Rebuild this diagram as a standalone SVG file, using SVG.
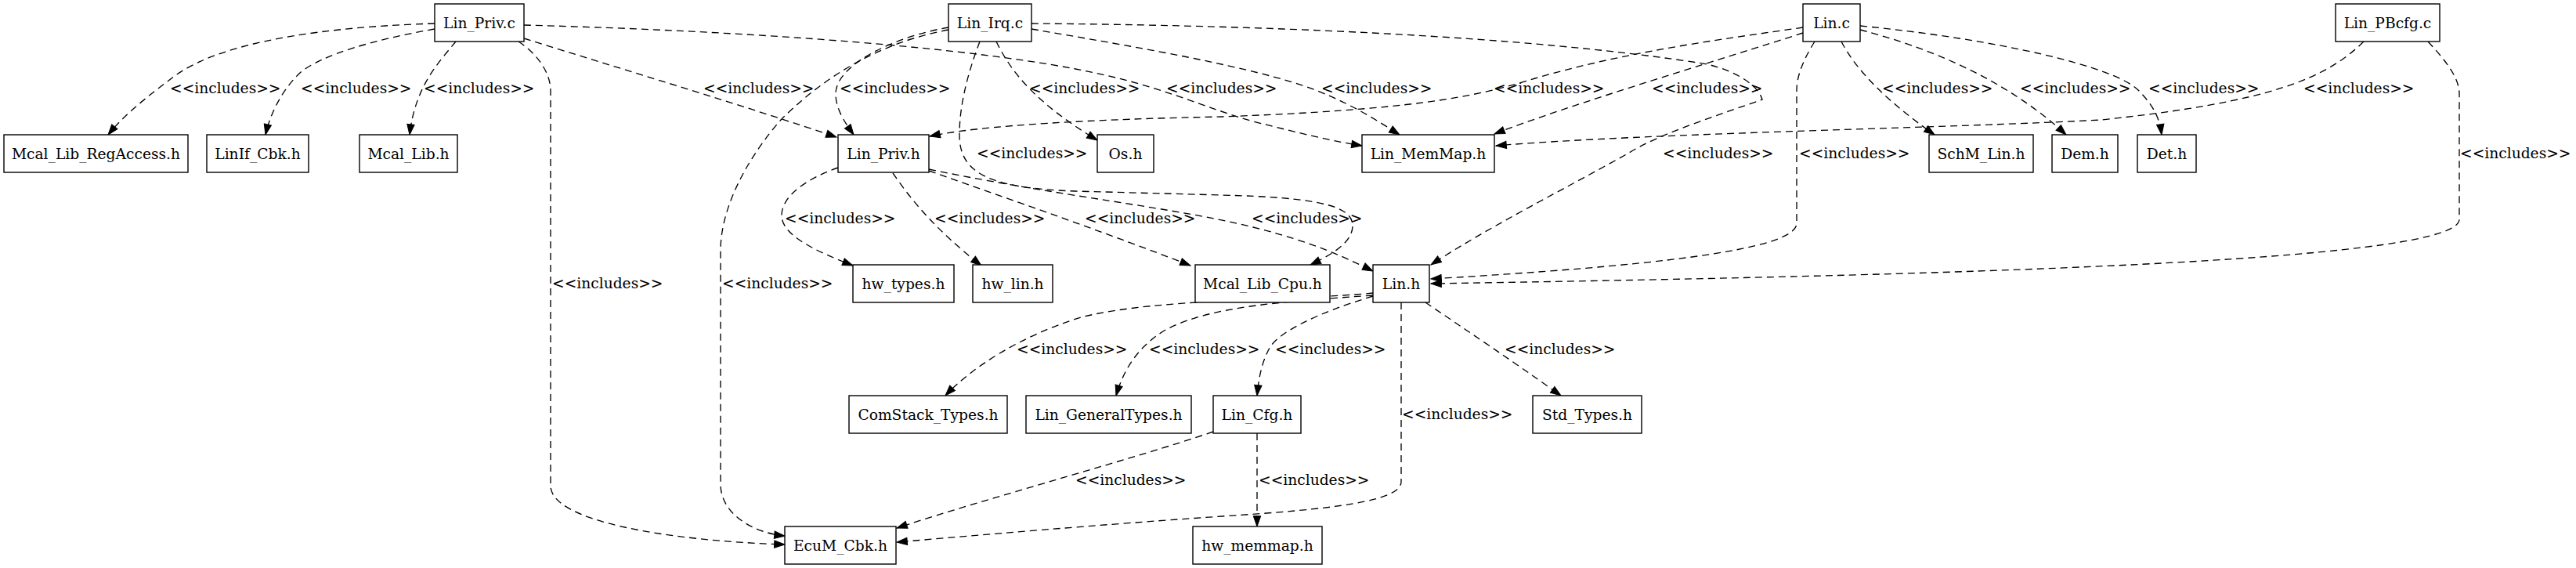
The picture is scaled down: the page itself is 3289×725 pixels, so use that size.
<svg xmlns="http://www.w3.org/2000/svg" width="3289" height="725" viewBox="0 0 3289 725">
<style>
text{font-family:"DejaVu Serif",serif;font-size:18.67px;fill:#000}
.n rect{fill:#fff;stroke:#000;stroke-width:1.4}
.n text{text-anchor:middle}
.e path{fill:none;stroke:#000;stroke-width:1.33;stroke-dasharray:9,6;marker-end:url(#a)}
</style>
<defs>
<marker id="a" markerUnits="userSpaceOnUse" markerWidth="16" markerHeight="12" refX="13.3" refY="4.7" orient="auto" overflow="visible">
<path d="M0,0 L13.3,4.7 L0,9.4 z" fill="#000" stroke="#000" stroke-width="1"/>
</marker>
</defs>
<rect width="3289" height="725" fill="#fff"/>
<g id="connectors" class="e">
<path d="M555,30 C420,34 280,52 219,100 C190,122 160,145 138,172"/>
<path d="M555,37 C480,50 410,70 383,93 C360,115 345,145 339,172"/>
<path d="M582,53 C560,80 530,110 523,172"/>
<path d="M662,53 C685,68 703,92 703,116 L703,620 C703,665 850,690 1002,695"/>
<path d="M669,49 C800,90 950,135 1068,175"/>
<path d="M669,32 C900,38 1200,55 1373,88 C1480,108 1530,135 1600,155 C1660,170 1700,180 1739,186"/>
<path d="M1211,35 C1150,45 1067,80 1067,120 C1067,140 1080,158 1090,172"/>
<path d="M1211,38 C1120,55 1050,100 997,153 C960,195 920,260 920,320 L920,618 C920,655 960,680 1002,684"/>
<path d="M1272,53 C1290,90 1320,130 1401,179"/>
<path d="M1251,53 C1235,95 1225,135 1225,172 C1225,220 1260,240 1373,244 L1560,249 C1680,252 1727,262 1727,288 C1727,310 1700,325 1673,338"/>
<path d="M1317,37 C1450,60 1600,85 1680,115 C1730,135 1760,155 1787,172"/>
<path d="M1317,30 C1600,32 1950,45 2180,82 C2220,92 2245,110 2250,127 C2200,145 2120,170 2080,195 C2000,240 1900,290 1827,338"/>
<path d="M2302,35 C2200,50 2080,65 1960,100 C1880,125 1800,140 1560,149 C1400,152 1250,160 1187,174"/>
<path d="M2302,42 C2200,75 2000,135 1908,171"/>
<path d="M2317,53 C2300,80 2294,100 2294,115 L2294,285 C2294,320 2100,340 1827,356"/>
<path d="M2351,53 C2370,90 2410,130 2470,172"/>
<path d="M2375,38 C2460,60 2560,100 2638,172"/>
<path d="M2375,33 C2550,50 2700,85 2730,115 C2750,135 2757,150 2760,172"/>
<path d="M3018,53 C2970,100 2900,130 2683,153 C2500,163 2100,170 1910,186"/>
<path d="M3100,53 C3125,80 3140,100 3140,120 L3140,280 C3140,330 2600,350 1827,362"/>
<path d="M1070,214 C1030,228 998,250 998,275 C998,300 1040,320 1089,339"/>
<path d="M1140,221 C1160,250 1190,290 1253,339"/>
<path d="M1186,218 C1300,258 1420,300 1520,339"/>
<path d="M1186,216 C1350,250 1500,265 1600,290 C1680,310 1720,330 1753,346"/>
<path d="M1753,374 C1650,384 1480,380 1380,405 C1300,430 1240,470 1207,505"/>
<path d="M1753,377 C1640,385 1550,390 1490,420 C1455,440 1435,470 1425,505"/>
<path d="M1753,378 C1680,400 1630,425 1620,446 C1610,465 1607,485 1605,505"/>
<path d="M1820,386 C1870,420 1930,460 1993,505"/>
<path d="M1789,386 L1789,615 C1789,640 1700,650 1560,659 C1400,670 1250,683 1145,692"/>
<path d="M1549,551 C1450,585 1280,630 1145,674"/>
<path d="M1605,553 L1605,672"/>
</g>
<g id="labels">
<text x="217" y="119">&lt;&lt;includes&gt;&gt;</text>
<text x="384" y="119">&lt;&lt;includes&gt;&gt;</text>
<text x="541" y="119">&lt;&lt;includes&gt;&gt;</text>
<text x="705" y="368">&lt;&lt;includes&gt;&gt;</text>
<text x="898" y="119">&lt;&lt;includes&gt;&gt;</text>
<text x="1489" y="119">&lt;&lt;includes&gt;&gt;</text>
<text x="1072" y="119">&lt;&lt;includes&gt;&gt;</text>
<text x="922" y="368">&lt;&lt;includes&gt;&gt;</text>
<text x="1314" y="119">&lt;&lt;includes&gt;&gt;</text>
<text x="1247" y="202">&lt;&lt;includes&gt;&gt;</text>
<text x="1687" y="119">&lt;&lt;includes&gt;&gt;</text>
<text x="2123" y="202">&lt;&lt;includes&gt;&gt;</text>
<text x="1907" y="119">&lt;&lt;includes&gt;&gt;</text>
<text x="2109" y="119">&lt;&lt;includes&gt;&gt;</text>
<text x="2297" y="202">&lt;&lt;includes&gt;&gt;</text>
<text x="2403" y="119">&lt;&lt;includes&gt;&gt;</text>
<text x="2579" y="119">&lt;&lt;includes&gt;&gt;</text>
<text x="2743" y="119">&lt;&lt;includes&gt;&gt;</text>
<text x="2941" y="119">&lt;&lt;includes&gt;&gt;</text>
<text x="3141" y="202">&lt;&lt;includes&gt;&gt;</text>
<text x="1002" y="285">&lt;&lt;includes&gt;&gt;</text>
<text x="1193" y="285">&lt;&lt;includes&gt;&gt;</text>
<text x="1385" y="285">&lt;&lt;includes&gt;&gt;</text>
<text x="1598" y="285">&lt;&lt;includes&gt;&gt;</text>
<text x="1298" y="452">&lt;&lt;includes&gt;&gt;</text>
<text x="1467" y="452">&lt;&lt;includes&gt;&gt;</text>
<text x="1628" y="452">&lt;&lt;includes&gt;&gt;</text>
<text x="1921" y="452">&lt;&lt;includes&gt;&gt;</text>
<text x="1790" y="535">&lt;&lt;includes&gt;&gt;</text>
<text x="1373" y="619">&lt;&lt;includes&gt;&gt;</text>
<text x="1607" y="619">&lt;&lt;includes&gt;&gt;</text>
</g>
<g id="Lin_Priv_c" class="n"><rect x="555" y="5" width="114" height="48"/><text x="612" y="35.5">Lin_Priv.c</text></g>
<g id="Lin_Irq_c" class="n"><rect x="1211" y="5" width="106" height="48"/><text x="1264" y="35.5">Lin_Irq.c</text></g>
<g id="Lin_c" class="n"><rect x="2302" y="5" width="73" height="48"/><text x="2338.5" y="35.5">Lin.c</text></g>
<g id="Lin_PBcfg_c" class="n"><rect x="2982" y="5" width="133" height="48"/><text x="3048.5" y="35.5">Lin_PBcfg.c</text></g>
<g id="Mcal_Lib_RegAccess_h" class="n"><rect x="5" y="172" width="235" height="48"/><text x="122.5" y="202.5">Mcal_Lib_RegAccess.h</text></g>
<g id="LinIf_Cbk_h" class="n"><rect x="264" y="172" width="130" height="48"/><text x="329" y="202.5">LinIf_Cbk.h</text></g>
<g id="Mcal_Lib_h" class="n"><rect x="459" y="172" width="125" height="48"/><text x="521.5" y="202.5">Mcal_Lib.h</text></g>
<g id="Lin_Priv_h" class="n"><rect x="1070" y="172" width="116" height="48"/><text x="1128" y="202.5">Lin_Priv.h</text></g>
<g id="Os_h" class="n"><rect x="1401" y="172" width="72" height="48"/><text x="1437" y="202.5">Os.h</text></g>
<g id="Lin_MemMap_h" class="n"><rect x="1739" y="172" width="169" height="48"/><text x="1823.5" y="202.5">Lin_MemMap.h</text></g>
<g id="SchM_Lin_h" class="n"><rect x="2463" y="172" width="133" height="48"/><text x="2529.5" y="202.5">SchM_Lin.h</text></g>
<g id="Dem_h" class="n"><rect x="2620" y="172" width="84" height="48"/><text x="2662" y="202.5">Dem.h</text></g>
<g id="Det_h" class="n"><rect x="2729" y="172" width="75" height="48"/><text x="2766.5" y="202.5">Det.h</text></g>
<g id="hw_types_h" class="n"><rect x="1089" y="338" width="129" height="48"/><text x="1153.5" y="368.5">hw_types.h</text></g>
<g id="hw_lin_h" class="n"><rect x="1242" y="338" width="102" height="48"/><text x="1293" y="368.5">hw_lin.h</text></g>
<g id="Mcal_Lib_Cpu_h" class="n"><rect x="1526" y="338" width="172" height="48"/><text x="1612" y="368.5">Mcal_Lib_Cpu.h</text></g>
<g id="Lin_h" class="n"><rect x="1753" y="338" width="72" height="48"/><text x="1789" y="368.5">Lin.h</text></g>
<g id="ComStack_Types_h" class="n"><rect x="1084" y="505" width="202" height="48"/><text x="1185" y="535.5">ComStack_Types.h</text></g>
<g id="Lin_GeneralTypes_h" class="n"><rect x="1310" y="505" width="211" height="48"/><text x="1415.5" y="535.5">Lin_GeneralTypes.h</text></g>
<g id="Lin_Cfg_h" class="n"><rect x="1549" y="505" width="112" height="48"/><text x="1605" y="535.5">Lin_Cfg.h</text></g>
<g id="Std_Types_h" class="n"><rect x="1957" y="505" width="139" height="48"/><text x="2026.5" y="535.5">Std_Types.h</text></g>
<g id="EcuM_Cbk_h" class="n"><rect x="1002" y="672" width="142" height="48"/><text x="1073" y="702.5">EcuM_Cbk.h</text></g>
<g id="hw_memmap_h" class="n"><rect x="1523" y="672" width="165" height="48"/><text x="1605.5" y="702.5">hw_memmap.h</text></g>
</svg>
